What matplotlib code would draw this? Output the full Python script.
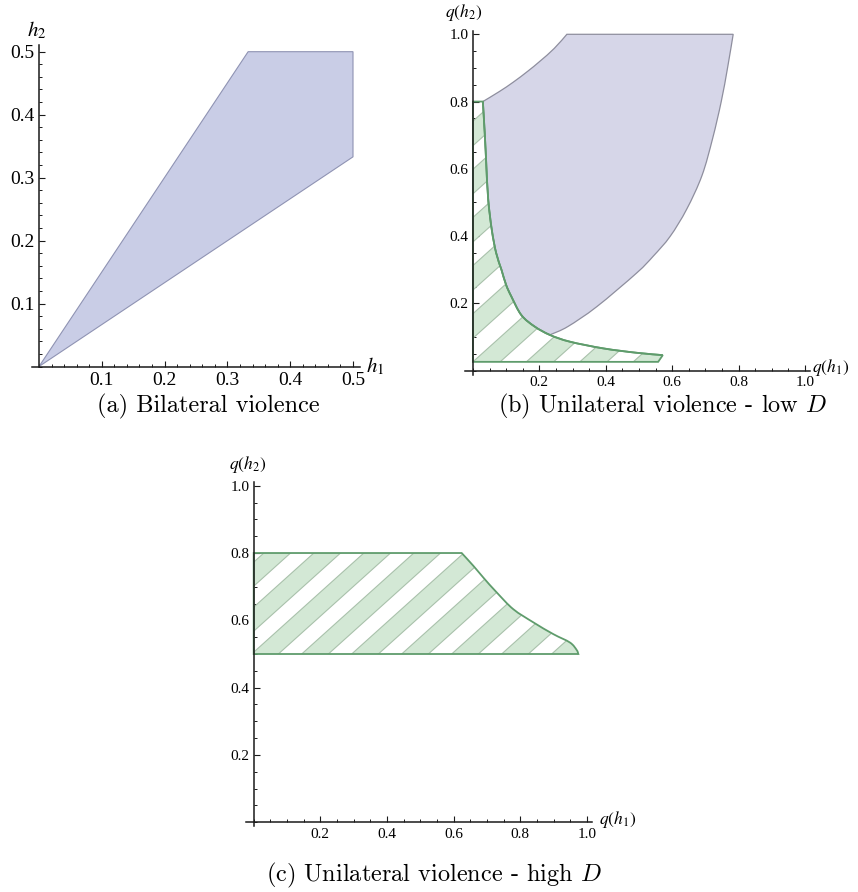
import numpy as np
import matplotlib
matplotlib.use("Agg")
import matplotlib.pyplot as plt
from matplotlib.patches import Polygon, PathPatch
from matplotlib.path import Path
from matplotlib.ticker import FixedLocator, MultipleLocator, FuncFormatter

plt.rcParams['font.family'] = ['Liberation Serif', 'DejaVu Serif']

# ---------------- data ----------------
# Panel (a): bilateral violence region (h1, h2)
a_h1 = [0.0, 0.333, 0.5, 0.5]
a_h2 = [0.0, 0.5, 0.5, 0.333]
a_ticks = [0.1, 0.2, 0.3, 0.4, 0.5]

# Panel (b): hatched (green) region boundary curve and floor
b_curve_x = [0.030, 0.036, 0.040, 0.046, 0.057, 0.070, 0.086, 0.100, 0.116, 0.146, 0.186, 0.232, 0.292, 0.393, 0.493, 0.572]
b_curve_y = [0.800, 0.700, 0.620, 0.510, 0.418, 0.350, 0.300, 0.255, 0.220, 0.165, 0.131, 0.106, 0.086, 0.066, 0.053, 0.046]
b_green_top = 0.80
b_green_floor = 0.026
b_green_floor_end = 0.558
# Panel (b): blue region
b_blue_upper_x = [0.030, 0.080, 0.122, 0.165, 0.202, 0.245, 0.283]
b_blue_upper_y = [0.800, 0.830, 0.858, 0.890, 0.920, 0.958, 1.000]
b_blue_right_x = [0.784, 0.767, 0.748, 0.722, 0.690, 0.644, 0.594, 0.543, 0.493, 0.373, 0.286, 0.236]
b_blue_right_y = [1.000, 0.900, 0.800, 0.690, 0.580, 0.480, 0.399, 0.340, 0.290, 0.190, 0.131, 0.108]
b_ticks = [0.2, 0.4, 0.6, 0.8, 1.0]

# Panel (c): hatched region
c_top = 0.80
c_bottom = 0.50
c_curve_x = [0.624, 0.659, 0.689, 0.729, 0.779, 0.839, 0.899, 0.949, 0.969, 0.974]
c_curve_y = [0.800, 0.762, 0.727, 0.683, 0.633, 0.594, 0.559, 0.534, 0.512, 0.500]
c_ticks = [0.2, 0.4, 0.6, 0.8, 1.0]

captions = ['(a) Bilateral violence', '(b) Unilateral violence - low $D$',
            '(c) Unilateral violence - high $D$']

# ---------------- style ----------------
W, H = 858, 892
BLUE_A = '#c9cde6'
BLUE_A_EDGE = '#8f93b3'
BLUE_B = '#d6d6e8'
BLUE_B_EDGE = '#8e8e9e'
STRIPE = '#d3e8d5'
STRIPE_EDGE = '#a9c1ab'
GREEN_EDGE = '#5f9c6c'
AXCOL = '#1a1a1a'

fig = plt.figure(figsize=(W / 100, H / 100), dpi=100)


class PathBuilder:
    """Builds a matplotlib Path from straight pieces and smooth pieces
    (Bezier curves passing through the given read points)."""

    def __init__(self, start):
        self.verts = [tuple(start)]
        self.codes = [Path.MOVETO]

    def line(self, pts):
        for p in pts:
            self.verts.append(tuple(p))
            self.codes.append(Path.LINETO)
        return self

    def smooth(self, pts):
        pts = [np.asarray(p, float) for p in pts]
        n = len(pts)
        for i in range(n - 1):
            p0 = pts[i - 1] if i > 0 else pts[i]
            p1, p2 = pts[i], pts[i + 1]
            p3 = pts[i + 2] if i + 2 < n else pts[i + 1]
            c1 = p1 + (p2 - p0) / 6.0
            c2 = p2 - (p3 - p1) / 6.0
            self.verts += [tuple(c1), tuple(c2), tuple(p2)]
            self.codes += [Path.CURVE4] * 3
        return self

    def close(self):
        self.verts.append(self.verts[0])
        self.codes.append(Path.CLOSEPOLY)
        return self

    def path(self):
        return Path(self.verts, self.codes)


def make_axes(ox, oy, sx, sy, xlim, ylim):
    left = ox + xlim[0] * sx
    right = ox + xlim[1] * sx
    bot = oy - ylim[0] * sy
    top = oy - ylim[1] * sy
    ax = fig.add_axes([left / W, 1 - bot / H, (right - left) / W, (bot - top) / H])
    ax.set_xlim(*xlim)
    ax.set_ylim(*ylim)
    ax.patch.set_alpha(0)
    for s in ['top', 'right']:
        ax.spines[s].set_visible(False)
    ax.spines['left'].set_position(('data', 0))
    ax.spines['bottom'].set_position(('data', 0))
    for s in ['left', 'bottom']:
        ax.spines[s].set_color(AXCOL)
        ax.spines[s].set_linewidth(1.1)
        ax.spines[s].set_zorder(5)
    return ax


def style_ticks(ax, ticks, minor, size):
    fmt = FuncFormatter(lambda v, _: f'{v:.1f}')
    for axis in (ax.xaxis, ax.yaxis):
        axis.set_major_locator(FixedLocator(ticks))
        axis.set_minor_locator(MultipleLocator(minor))
        axis.set_major_formatter(fmt)
    ax.tick_params(which='major', direction='in', length=4.6, width=0.8,
                   color=AXCOL, labelsize=size)
    ax.tick_params(which='minor', direction='in', length=2.4, width=0.7, color=AXCOL)
    ax.tick_params(axis='x', which='major', pad=4)
    ax.tick_params(axis='y', which='major', pad=3)


def add_stripes(ax, path, period, width, x0, y0, angle_deg):
    p0 = ax.transData.transform((0, 0))
    p1 = ax.transData.transform((1, 1))
    sx, sy = p1[0] - p0[0], p1[1] - p0[1]
    m = np.tan(np.radians(angle_deg)) * sx / sy
    clip = PathPatch(path, transform=ax.transData, facecolor='white',
                     edgecolor='none', zorder=1)
    ax.add_patch(clip)
    ylo, yhi = -0.2, 1.2
    for k in range(-25, 25):
        a = x0 + k * period
        pts = [(a + (ylo - y0) / m, ylo), (a + width + (ylo - y0) / m, ylo),
               (a + width + (yhi - y0) / m, yhi), (a + (yhi - y0) / m, yhi)]
        p = Polygon(pts, closed=True, facecolor=STRIPE, edgecolor=STRIPE_EDGE,
                    lw=0.8, zorder=2)
        ax.add_patch(p)
        p.set_clip_path(clip)


# ---------------- panel (a) ----------------
axa = make_axes(39, 366.5, 628, 629.6, (-0.0115, 0.511), (0.0, 0.511))
style_ticks(axa, a_ticks, 0.02, 14)
axa.add_patch(Polygon(np.column_stack([a_h1, a_h2]), closed=True,
                      facecolor=BLUE_A, edgecolor=BLUE_A_EDGE, lw=0.8, zorder=2))
axa.text(0.521, 0.0, r'$h_1$', fontsize=15, math_fontfamily='stix',
         ha='left', va='center', clip_on=False)
axa.text(-0.004, 0.534, r'$h_2$', fontsize=15, math_fontfamily='stix',
         ha='center', va='center', clip_on=False)

# ---------------- panel (b) ----------------
axb = make_axes(472.9, 370.6, 332, 336.3, (-0.024, 1.016), (-0.012, 1.01))
style_ticks(axb, b_ticks, 0.05, 11)

curve_b = list(zip(b_curve_x, b_curve_y))
green_b = (PathBuilder((0.0, b_green_floor))
           .line([(0.0, b_green_top), curve_b[0]])
           .smooth(curve_b)
           .line([(b_green_floor_end, b_green_floor)])
           .close().path())
add_stripes(axb, green_b, 0.161, 0.082, 0.0, b_green_floor, 42)
axb.add_patch(PathPatch(green_b, facecolor='none', edgecolor=GREEN_EDGE,
                        lw=1.3, zorder=4))

n_left = sum(1 for x in b_curve_x if x <= 0.236)
right_b = list(zip(b_blue_right_x[::-1], b_blue_right_y[::-1]))
upper_b = list(zip(b_blue_upper_x[::-1], b_blue_upper_y[::-1]))
blue_b = (PathBuilder(curve_b[0])
          .smooth(curve_b[:n_left])
          .line([right_b[0]])
          .smooth(right_b)
          .line([upper_b[0]])
          .smooth(upper_b)
          .close().path())
axb.add_patch(PathPatch(blue_b, facecolor=BLUE_B, edgecolor=BLUE_B_EDGE,
                        lw=0.9, zorder=3))
axb.add_patch(PathPatch(PathBuilder(curve_b[0]).smooth(curve_b).path(),
                        facecolor='none', edgecolor=GREEN_EDGE, lw=1.3, zorder=4))
axb.text(1.02, 0.008, r'$q(h_1)$', fontsize=12.5, math_fontfamily='stix',
         ha='left', va='center', clip_on=False)
axb.text(-0.027, 1.065, r'$q(h_2)$', fontsize=12.5, math_fontfamily='stix',
         ha='center', va='center', clip_on=False)

# ---------------- panel (c) ----------------
axc = make_axes(253.7, 822.3, 333.3, 336.6, (-0.024, 1.016), (-0.012, 1.01))
style_ticks(axc, c_ticks, 0.05, 11)
curve_c = list(zip(c_curve_x, c_curve_y))
green_c = (PathBuilder((0.0, c_bottom))
           .line([(0.0, c_top), curve_c[0]])
           .smooth(curve_c)
           .close().path())
add_stripes(axc, green_c, 0.150, 0.080, 0.144, c_bottom, 42)
axc.add_patch(PathPatch(green_c, facecolor='none', edgecolor=GREEN_EDGE,
                        lw=1.3, zorder=4))
axc.text(1.035, 0.008, r'$q(h_1)$', fontsize=12.5, math_fontfamily='stix',
         ha='left', va='center', clip_on=False)
axc.text(-0.019, 1.064, r'$q(h_2)$', fontsize=12.5, math_fontfamily='stix',
         ha='center', va='center', clip_on=False)

# ---------------- captions ----------------
cap_pos = [(208, 406), (663, 406), (434, 875)]
for txt, (px, py) in zip(captions, cap_pos):
    fig.text(px / W, 1 - py / H, txt, fontsize=17.5, fontfamily='cmr10',
             math_fontfamily='cm', ha='center', va='center')

fig.savefig('out.png', dpi=100)
